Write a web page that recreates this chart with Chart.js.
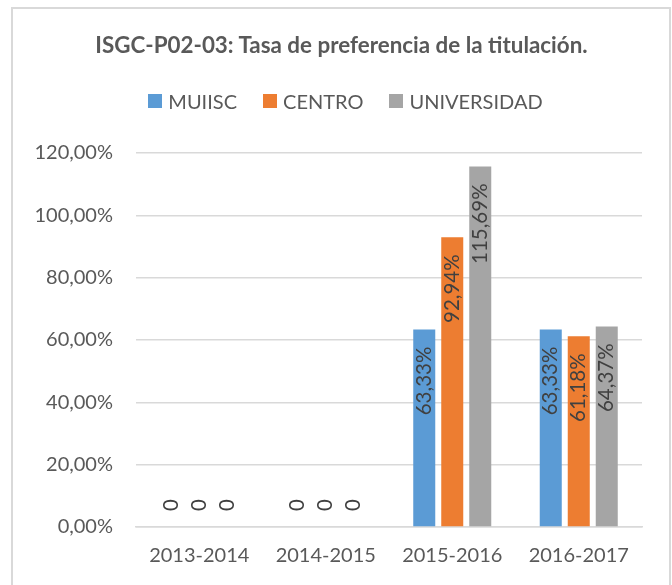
<!DOCTYPE html>
<html>
<head>
<meta charset="utf-8">
<script src="https://cdn.jsdelivr.net/npm/chart.js@4.4.1/dist/chart.umd.min.js"></script>
<style>
    body { margin: 0; background: #fff; }
    #wrap { position: relative; width: 672px; height: 585px; overflow: hidden; font-family: Lato, sans-serif; }
    #frame { position: absolute; left: 11px; top: 7px; width: 656px; height: 620px; border: 2px solid #D9D9D9; }
    #title { position: absolute; left: 0; top: 30px; width: 683px; height: 30px; line-height: 30px; text-align: center;
             font-weight: bold; font-size: 22.4px; color: #595959; white-space: nowrap; }
    #legend { position: absolute; left: 0; top: 86px; width: 691px; height: 30px; display: flex; justify-content: center;
              align-items: center; font-size: 20px; color: #595959; }
    .item { display: flex; align-items: center; margin: 0 13px; }
    .box { width: 14px; height: 14px; margin-right: 6px; }
    canvas { position: absolute; left: 0; top: 0; }
</style>
</head>
<body>
<div id="wrap">
    <div id="frame"></div>
    <canvas id="chart" width="672" height="585"></canvas>
    <div id="title">ISGC-P02-03: Tasa de preferencia de la titulación.</div>
    <div id="legend"></div>
</div>
<script>
const categories = ['2013-2014', '2014-2015', '2015-2016', '2016-2017'];
const seriesNames = ['MUIISC', 'CENTRO', 'UNIVERSIDAD'];
const muiisc = [0, 0, 63.33, 63.33];
const centro = [0, 0, 92.94, 61.18];
const universidad = [0, 0, 115.69, 64.37];
const seriesColors = ['#5B9BD5', '#ED7D31', '#A5A5A5'];
const yTicks = [0, 20, 40, 60, 80, 100, 120];

const FONT = 'Lato';

// spanish style percent: 63,33%
function fmtPct(v) {
    return v.toFixed(2).replace('.', ',') + '%';
}

// html legend
const legendEl = document.getElementById('legend');
seriesNames.forEach((name, i) => {
    const item = document.createElement('div');
    item.className = 'item';
    item.innerHTML = `<span class="box" style="background:${seriesColors[i]}"></span>${name}`;
    legendEl.appendChild(item);
});

// rotated labels at inside end of each bar
const barLabels = {
    id: 'barLabels',
    afterDatasetsDraw(chart) {
        const ctx = chart.ctx;
        ctx.save();
        ctx.font = `20.5px ${FONT}`;
        ctx.fillStyle = '#404040';
        ctx.textBaseline = 'middle';
        chart.data.datasets.forEach((ds, di) => {
            const meta = chart.getDatasetMeta(di);
            meta.data.forEach((bar, i) => {
                const v = ds.data[i];
                ctx.save();
                if (v === 0) {
                    ctx.translate(bar.x, bar.base - 22);
                    ctx.rotate(-Math.PI / 2);
                    ctx.textAlign = 'center';
                    ctx.fillText('0', 0, 0);
                } else {
                    ctx.translate(bar.x, bar.y + 17);
                    ctx.rotate(-Math.PI / 2);
                    ctx.textAlign = 'right';
                    ctx.fillText(fmtPct(v), 0, 0);
                }
                ctx.restore();
            });
        });
        ctx.restore();
    }
};

const ctx = document.getElementById('chart').getContext('2d');
new Chart(ctx, {
    type: 'bar',
    data: {
        labels: categories,
        datasets: [
            { label: seriesNames[0], data: muiisc, backgroundColor: seriesColors[0] },
            { label: seriesNames[1], data: centro, backgroundColor: seriesColors[1] },
            { label: seriesNames[2], data: universidad, backgroundColor: seriesColors[2] }
        ]
    },
    options: {
        responsive: false,
        animation: false,
        devicePixelRatio: 1,
        categoryPercentage: 0.664,
        barPercentage: 0.786,
        layout: { padding: { top: 153, left: 0, right: 30, bottom: 0 } },
        plugins: { legend: { display: false }, title: { display: false }, tooltip: { enabled: false } },
        scales: {
            x: {
                grid: { display: false, drawTicks: false },
                border: { color: '#D9D9D9', width: 1.5 },
                ticks: { color: '#595959', font: { family: FONT, size: 20 }, padding: 17 }
            },
            y: {
                min: 0, max: 120,
                afterFit: (scale) => { scale.width = 136; },
                afterBuildTicks: (scale) => { scale.ticks = yTicks.map(v => ({ value: v })); },
                grid: { color: '#D9D9D9', lineWidth: 1.5, drawTicks: false },
                border: { display: false },
                ticks: {
                    color: '#595959', font: { family: FONT, size: 20 }, padding: 23,
                    callback: (v) => fmtPct(v)
                }
            }
        }
    },
    plugins: [barLabels]
});
</script>
</body>
</html>
